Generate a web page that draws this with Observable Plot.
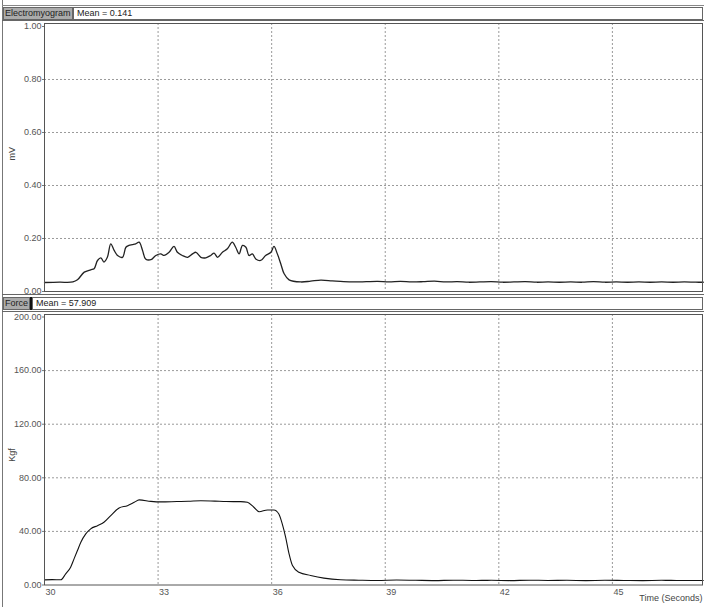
<!DOCTYPE html>
<html>
<head>
<meta charset="utf-8">
<script src="https://cdn.jsdelivr.net/npm/d3@7"></script>
<script src="https://cdn.jsdelivr.net/npm/@observablehq/plot@0.6"></script>
<style>
  html, body { margin: 0; padding: 0; background: #fff; }
  #wrap { position: relative; width: 706px; height: 607px; overflow: hidden; background: #fff;
          font-family: "Liberation Sans", Arial, sans-serif; }
  .ln { position: absolute; background: #666; }
  .box { position: absolute; box-sizing: border-box; height: 13px; font-size: 9px; line-height: 11px;
         color: #222; white-space: nowrap; overflow: hidden; border: 1px solid #666; }
  .gray { background: #ababab; padding-left: 1px; }
  .white { background: #fff; padding-left: 3px; }
  svg { position: absolute; left: 0; }
</style>
</head>
<body>
<div id="wrap">
  <div class="ln" style="left:2px;top:0;width:1px;height:607px;background:#777"></div>
  <div class="ln" style="left:2px;top:5px;width:702px;height:1px;background:#888"></div>
  <div class="box gray" id="h1a" style="left:3px;top:7px;width:70px;"></div>
  <div class="box white" id="h1b" style="left:73px;top:7px;width:630px;"></div>
  <div class="ln" style="left:2px;top:20px;width:702px;height:1px;"></div>
  <div class="ln" style="left:2px;top:294px;width:702px;height:1px;"></div>
  <div class="box gray" id="h2a" style="left:3px;top:297px;width:27px;"></div>
  <div class="ln" style="left:30px;top:297px;width:2px;height:13px;background:#111"></div>
  <div class="box white" id="h2b" style="left:32px;top:297px;width:671px;"></div>
  <div class="ln" style="left:2px;top:311px;width:702px;height:1px;"></div>
</div>
<script>
// ---- data ----
const panelNames = ["Electromyogram", "Force"];
const panelMeans = ["Mean = 0.141", "Mean = 57.909"];
const yTitles = ["mV", "Kgf"];
const xTitle = "Time (Seconds)";
const xTicks = [30, 33, 36, 39, 42, 45];
const emgTicks = [0, 0.2, 0.4, 0.6, 0.8, 1.0];
const forceTicks = [0, 40, 80, 120, 160, 200];

const emgTime = [30.0, 30.4, 30.75, 30.87, 31.05, 31.22, 31.31, 31.40, 31.49, 31.57, 31.66, 31.75, 31.84, 31.93, 32.06,
  32.15, 32.23, 32.32, 32.41, 32.50, 32.59, 32.67, 32.81, 32.94, 33.07, 33.16, 33.29, 33.42, 33.51, 33.64, 33.78,
  33.91, 34.00, 34.13, 34.26, 34.39, 34.48, 34.57, 34.70, 34.83, 34.96, 35.05, 35.14, 35.23, 35.32, 35.40, 35.49,
  35.58, 35.71, 35.84, 35.98, 36.06, 36.15, 36.24, 36.33, 36.46, 36.77, 37.03, 37.30, 37.6, 37.9, 38.2, 38.5, 38.8,
  39.1, 39.4, 39.7, 40.0, 40.3, 40.6, 40.9, 41.2, 41.5, 41.8, 42.1, 42.4, 42.7, 43.0, 43.3, 43.6, 43.9, 44.2, 44.5,
  44.8, 45.1, 45.4, 45.7, 46.0, 46.3, 46.6, 46.9, 47.2, 47.4];
const emgValue = [0.034, 0.035, 0.036, 0.044, 0.073, 0.082, 0.086, 0.117, 0.127, 0.111, 0.129, 0.180, 0.155, 0.136, 0.129,
  0.167, 0.174, 0.177, 0.180, 0.186, 0.155, 0.123, 0.120, 0.136, 0.142, 0.136, 0.148, 0.170, 0.148, 0.136, 0.129,
  0.142, 0.148, 0.129, 0.127, 0.136, 0.145, 0.129, 0.148, 0.161, 0.186, 0.167, 0.142, 0.174, 0.167, 0.136, 0.142,
  0.123, 0.117, 0.136, 0.148, 0.170, 0.142, 0.105, 0.067, 0.044, 0.036, 0.039, 0.043, 0.040, 0.037, 0.036, 0.037, 0.038,
  0.036, 0.038, 0.036, 0.037, 0.039, 0.036, 0.037, 0.035, 0.036, 0.037, 0.035, 0.036, 0.037, 0.035, 0.036, 0.035, 0.036, 0.035, 0.037,
  0.035, 0.036, 0.035, 0.036, 0.035, 0.036, 0.035, 0.036, 0.035, 0.035];

const forceTime = [30.0, 30.2, 30.43, 30.56, 30.69, 30.78, 30.87, 30.96, 31.09, 31.22, 31.40, 31.57, 31.75, 31.97, 32.19,
  32.37, 32.50, 32.81, 33.07, 33.5, 33.8, 34.13, 34.5, 34.8, 35.18, 35.36, 35.53, 35.67, 35.89, 36.06, 36.19, 36.28,
  36.37, 36.46, 36.55, 36.72, 37.03, 37.38, 37.82, 38.3, 38.8, 39.3, 39.8, 40.3, 40.8, 41.3, 41.8, 42.3, 42.8, 43.3,
  43.8, 44.3, 44.8, 45.3, 45.8, 46.3, 46.8, 47.4];
const forceValue = [3.8, 4.0, 3.9, 8.3, 13.3, 19.5, 25.7, 31.9, 38.1, 41.9, 44.3, 46.8, 51.8, 57.5, 59.2,
  61.7, 63.5, 62.4, 62.0, 62.3, 62.5, 62.9, 62.6, 62.3, 62.2, 61.7, 58.0, 54.7, 56.0, 56.0, 53.0, 45.6,
  35.6, 23.2, 14.5, 9.5, 7.1, 5.1, 3.9, 3.6, 3.4, 3.7, 3.5, 3.3, 3.6, 3.4, 3.5, 3.3, 3.6, 3.4,
  3.5, 3.3, 3.5, 3.4, 3.3, 3.5, 3.4, 3.4];

// ---- tables built from arrays ----
const emgRows = emgTime.map((t, i) => ({t, v: emgValue[i]}));
const forceRows = forceTime.map((t, i) => ({t, v: forceValue[i]}));

document.getElementById("h1a").textContent = panelNames[0];
document.getElementById("h1b").textContent = panelMeans[0];
document.getElementById("h2a").textContent = panelNames[1];
document.getElementById("h2b").textContent = panelMeans[1];

const xDomain = [30, 47.38];
const gridStyle = {stroke: "#9a9a9a", strokeOpacity: 1, strokeDasharray: "2,2", strokeWidth: 1};
const baseStyle = {fontFamily: "Liberation Sans, Arial, sans-serif", fontSize: "9px", color: "#555", background: "transparent", overflow: "visible"};

const emgChart = Plot.plot({
  width: 706, height: 300,
  marginTop: 23, marginBottom: 9, marginLeft: 44, marginRight: 4,
  style: baseStyle,
  x: {domain: xDomain, axis: null},
  y: {domain: [0, 1.0113]},
  marks: [
    Plot.gridY(emgTicks.slice(1, -1), gridStyle),
    Plot.gridX(xTicks.slice(1), gridStyle),
    Plot.axisY(emgTicks, {tickFormat: d3.format(".2f"), tickSize: 2, tickPadding: 1, label: null, stroke: "#777"}),
    Plot.text([yTitles[0]], {text: d => d, y: () => 0.494, frameAnchor: "left", dx: -32, rotate: -90, fill: "#444", fontSize: 9}),
    Plot.line(emgRows, {x: "t", y: "v", stroke: "#222", strokeWidth: 1.3, curve: "catmull-rom"}),
    Plot.frame({stroke: "#555"})
  ]
});
emgChart.style.top = "0px";

const forceChart = Plot.plot({
  width: 706, height: 307,
  marginTop: 14, marginBottom: 22.5, marginLeft: 44, marginRight: 4,
  style: baseStyle,
  x: {domain: xDomain},
  y: {domain: [0, 201.87]},
  marks: [
    Plot.gridY(forceTicks.slice(1, -1), gridStyle),
    Plot.gridX(xTicks.slice(1), gridStyle),
    Plot.axisY(forceTicks, {tickFormat: d3.format(".2f"), tickSize: 2, tickPadding: 1, label: null, stroke: "#777"}),
    Plot.text([yTitles[1]], {text: d => d, y: () => 92, frameAnchor: "left", dx: -32, rotate: -90, fill: "#444", fontSize: 9}),
    Plot.axisX(xTicks, {tickSize: 0, tickPadding: 4, textAnchor: "start", dx: 1, label: null}),
    Plot.text([xTitle], {text: d => d, frameAnchor: "bottom-right", lineAnchor: "middle", dy: 13.5, dx: 0,
      fill: "#444", fontSize: 9}),
    Plot.line(forceRows, {x: "t", y: "v", stroke: "#111", strokeWidth: 1.1, curve: "monotone-x"}),
    Plot.frame({stroke: "#555"})
  ]
});
forceChart.style.top = "300px";

const wrap = document.getElementById("wrap");
wrap.appendChild(emgChart);
wrap.appendChild(forceChart);
</script>
</body>
</html>
